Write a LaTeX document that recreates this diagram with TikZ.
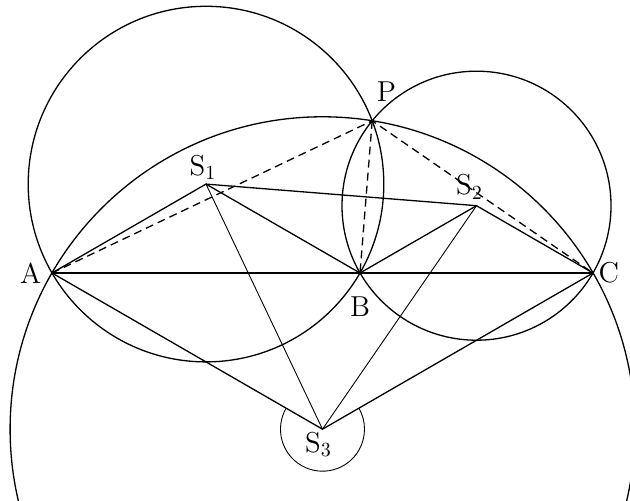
\documentclass[tikz,border=0pt]{standalone}
\usepackage{amsmath}
\usepackage{tikz}
\usetikzlibrary{positioning}

\begin{document}
\begin{tikzpicture}[x=0.5pt, y=0.5pt, line width=0.65pt,
    lbl/.style={inner sep=0pt, font=\Large},
    thinline/.style={line width=0.45pt},
    dashline/.style={dash pattern=on 4pt off 2.5pt}]
  \useasboundingbox (0,0) rectangle (630,501);
  \clip (0,0) rectangle (630,501);

  \coordinate (A) at (52,228);
  \coordinate (B) at (360,228);
  \coordinate (C) at (593,228);
  \coordinate (S1) at (206,316.9);
  \coordinate (S2) at (476.5,295.3);
  \coordinate (S3) at (322.5,71.8);
  \coordinate (P) at (372.2,380.2);

  \node[lbl, left=5pt of A] (labA) {A};
  \node[lbl, below=11.5pt of B] (labB) {B};
  \node[lbl, right=2.5pt of C] (labC) {C};
  \node[lbl, above right=9.5pt and 2pt of P] (labP) {P};
  \node[lbl, above=2pt of S1, xshift=-1.5pt] (labS1) {S$_1$};
  \node[lbl, above=3pt of S2, xshift=-3.5pt] (labS2) {S$_2$};
  \node[lbl, below=1pt of S3, xshift=-2pt] (labS3) {S$_3$};

  % circumcircles
  \draw (S1) circle (177.8);
  \draw (S2) circle (134.5);
  \draw (S3) circle (312.4);
  \draw[thinline] (S3) ++(150:42) arc[start angle=150, end angle=390, radius=42];

  \draw (A) -- (C);
  \draw (A) -- (S1) -- (B) -- (S2) -- (C);
  \draw (A) -- (S3) -- (C);
  \draw (S1) -- (S2);
  \draw[thinline] (S1) -- (S3) -- (S2);
  \draw[dashline] (A) -- (P) -- (C);
  \draw[dashline] (P) -- (B);
\end{tikzpicture}
\end{document}
